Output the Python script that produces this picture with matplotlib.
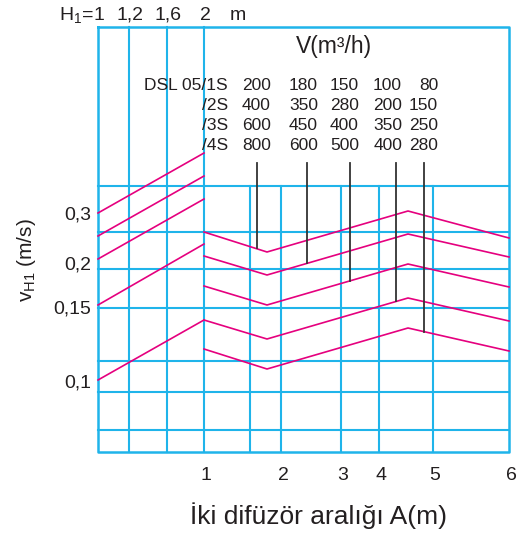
import matplotlib
matplotlib.use('Agg')
import matplotlib.pyplot as plt

# nomogram is drawn in its own grid units (x: 0..528 across, y: 0..540 down)

# H1 scale (left section)
h1_labels = ['1', '1,2', '1,6', '2']
h1_grid = [98, 129, 167, 204]

# A scale (right section)
a_labels = ['1', '2', '3', '4', '5', '6']
a_grid = [204, 281, 341, 379, 433, 509]
a_minor = [250]

# horizontal grid rows
grid_rows = [186, 232, 269, 308, 361, 392, 430]
frame = (98, 509, 27, 452)

# velocity labels (baseline positions)
v_labels = ['0,3', '0,2', '0,15', '0,1']
v_label_y = [219, 269, 313, 387]

# flow table
models = ['DSL 05/1S', '/2S', '/3S', '/4S']
flows = [
    [200, 180, 150, 100, 80],
    [400, 350, 280, 200, 150],
    [600, 450, 400, 350, 250],
    [800, 600, 500, 400, 280],
]
col_right = [271, 318, 359, 402, 438]
row_base = [90, 110, 130, 150]

# left section lines (value at H1=1 and at H1=2)
left_x = [98, 204]
left_lines = [
    [213, 153],
    [236, 176],
    [259, 199],
    [305, 244],
    [380, 320],
]

# right section curves
curve_x = [204, 267, 408, 509]
curves = [
    [232, 252, 211, 238],
    [256, 275, 234, 257],
    [286, 305, 264, 287],
    [320, 339, 298, 321],
    [349, 369, 328, 351],
]

# reading lines for each flow column
read_x = [257, 307, 350, 396, 424]
read_end = [248, 263, 281, 301, 332]
read_top = 163

cyan = '#1fb4ea'
magenta = '#e5007e'
ink = '#231f20'
plt.rcParams['font.family'] = ['Liberation Sans', 'DejaVu Sans']
plt.rcParams['mathtext.default'] = 'regular'

fig = plt.figure(figsize=(5.28, 5.4), dpi=100)
ax = fig.add_axes([0, 0, 1, 1])
ax.set_xlim(0, 528)
ax.set_ylim(540, 0)
ax.axis('off')

x0, x1, y0, y1 = frame
# grid
for x in h1_grid[1:]:
    ax.plot([x, x], [y0, y1], color=cyan, lw=1.5)
for x in a_minor + a_grid[1:-1]:
    ax.plot([x, x], [grid_rows[0], y1], color=cyan, lw=1.5)
for y in grid_rows:
    ax.plot([x0, x1], [y, y], color=cyan, lw=1.5)
ax.plot([x0, x1, x1, x0, x0], [y0, y0, y1, y1, y0], color=cyan, lw=1.8)

# curves
for ys in left_lines:
    ax.plot(left_x, ys, color=magenta, lw=1.2)
for ys in curves:
    ax.plot(curve_x, ys, color=magenta, lw=1.2)
for x, ye in zip(read_x, read_end):
    ax.plot([x, x], [read_top, ye], color='#333333', lw=1.3)

# H1 scale labels
ax.text(h1_grid[0] - 4, 20, 'H$_1$=', ha='right', va='baseline', fontsize=14, color=ink)
for lab, x in zip(h1_labels, h1_grid):
    ax.text(x + 1, 20, lab, ha='center', va='baseline', fontsize=14, color=ink)
ax.text(238, 20, 'm', ha='center', va='baseline', fontsize=14, color=ink)

# table
ax.text(334, 53, 'V(m³/h)', ha='center', va='baseline', fontsize=16.5, color=ink)
for name, yb, row in zip(models, row_base, flows):
    ax.text(228, yb, name, ha='right', va='baseline', fontsize=12.5, color=ink)
    for xr, val in zip(col_right, row):
        ax.text(xr, yb, str(val), ha='right', va='baseline', fontsize=12.5, color=ink)

# velocity labels
for lab, yb in zip(v_labels, v_label_y):
    ax.text(91, yb, lab, ha='right', va='baseline', fontsize=14, color=ink)
ax.text(27, 260, 'v$_{H1}$ (m/s)', ha='center', va='center', rotation=90, fontsize=15, color=ink)

# A scale labels
for lab, x in zip(a_labels, a_grid):
    ax.text(x + 2, 480, lab, ha='center', va='baseline', fontsize=14, color=ink)
ax.text(318, 524, 'İki difüzör aralığı A(m)', ha='center', va='baseline', fontsize=19, color=ink)

fig.savefig('out.png', dpi=100)
